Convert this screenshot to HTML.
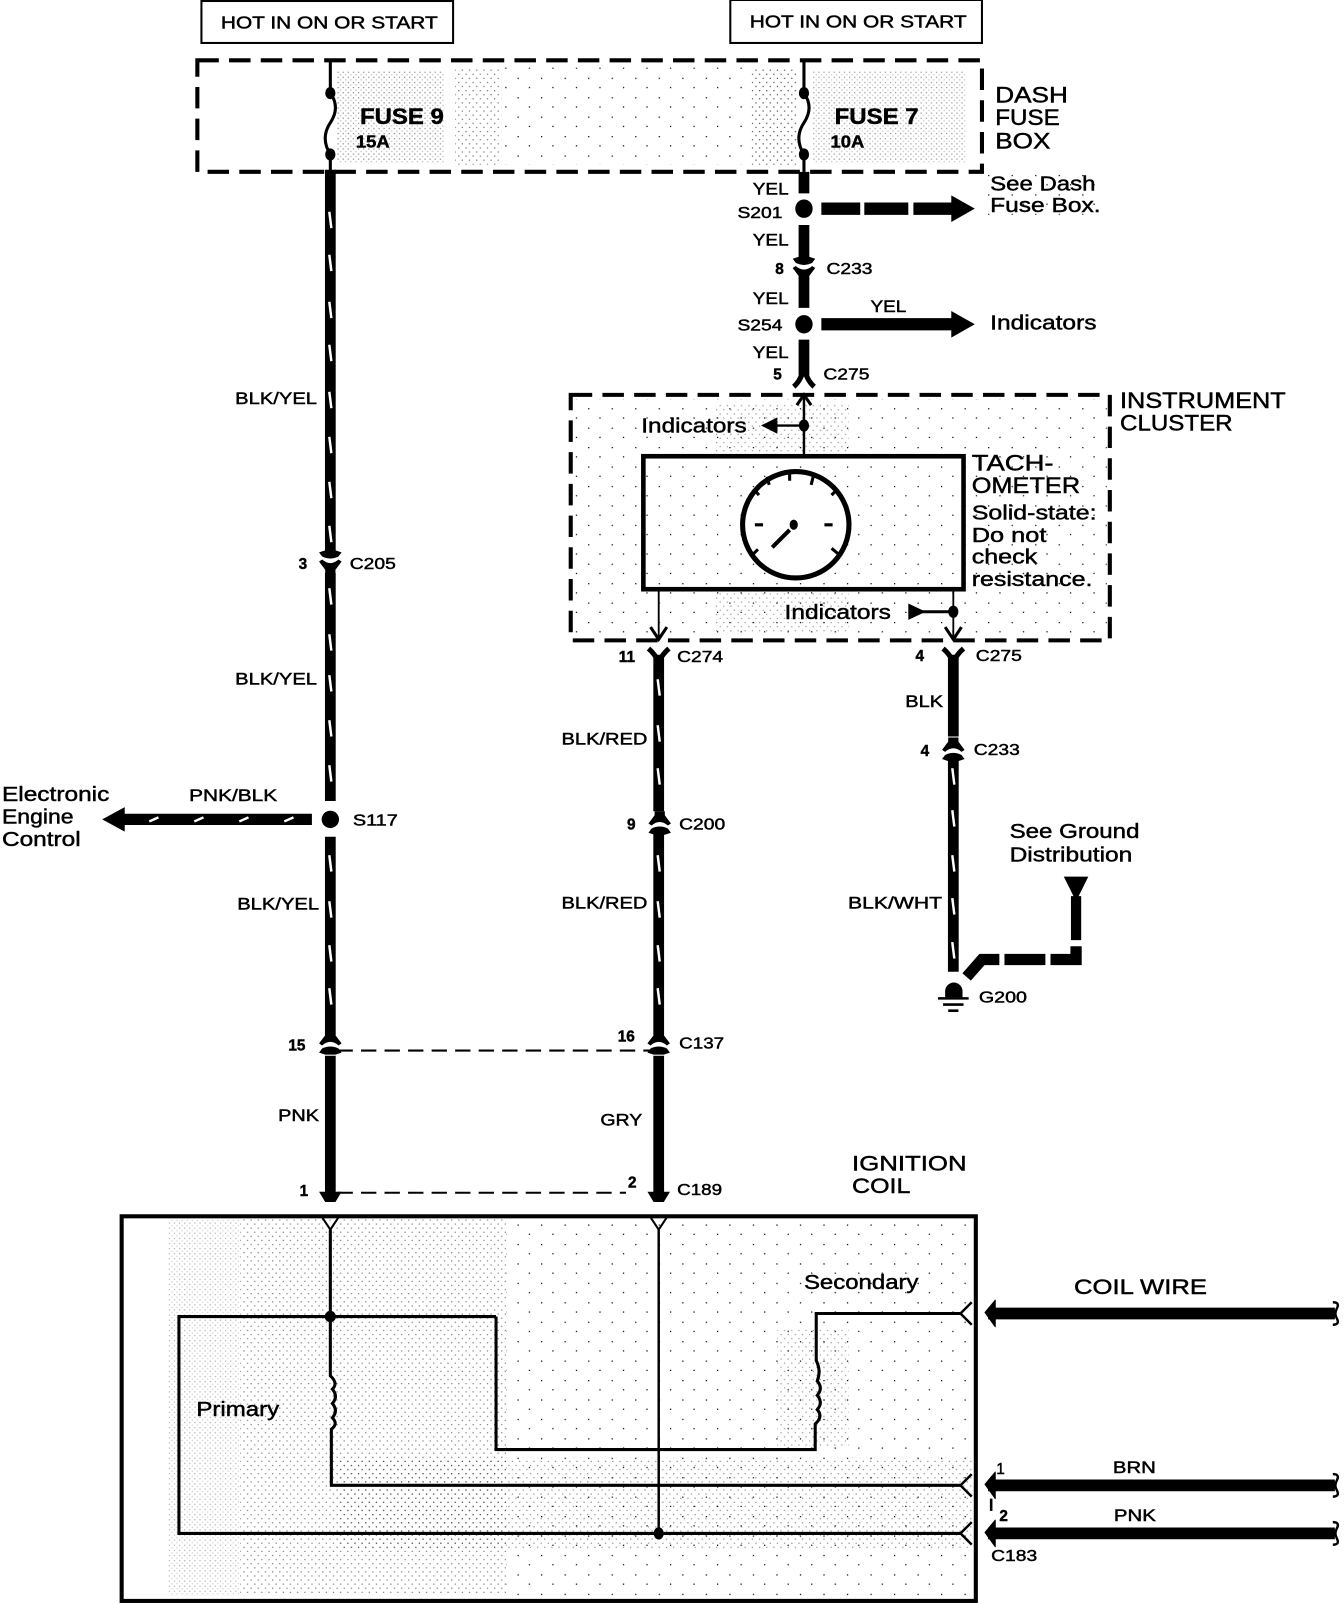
<!DOCTYPE html>
<html>
<head>
<meta charset="utf-8">
<title>Tachometer wiring</title>
<style>
html,body{margin:0;padding:0;background:#fff}
svg{display:block}
text{font-family:"Liberation Sans",sans-serif;fill:#000;stroke:#000;stroke-width:.45}
</style>
</head>
<body>
<svg width="1344" height="1604" viewBox="1 0 1312 1568" xmlns="http://www.w3.org/2000/svg">
<defs>
<pattern id="d1" width="5" height="5" patternUnits="userSpaceOnUse"><rect width="1.2" height="1.2" fill="#000"/><rect x="2.5" y="2.5" width="1.2" height="1.2" fill="#000" opacity=".6"/></pattern>
<pattern id="d2" width="7" height="8" patternUnits="userSpaceOnUse"><rect width="1.2" height="1.2" fill="#000"/><rect x="3.5" y="4" width="1.2" height="1.2" fill="#000"/></pattern>
<pattern id="d3" width="23" height="19" patternUnits="userSpaceOnUse"><rect width="1.2" height="1.2" fill="#000"/><rect x="11" y="9" width="1.2" height="1.2" fill="#000"/></pattern>
<g id="cd">
<path d="M-11,-9 L-5,-11 H5 L11,-9 L8,-5 Q0,-1 -8,-5 Z" fill="#000"/>
<path d="M-11,0 L-8,-2 Q0,5 8,-2 L11,0 L5,8 V12 H-5 V8 Z" fill="#000"/>
</g>
<use id="cu" href="#cd" transform="scale(1,-1)"/>
<path id="ybr" d="M-10,-8 Q-4,-3 0,5 Q4,-3 10,-8" fill="none" stroke="#000" stroke-width="5"/>
<path id="s" d="M-1,-8 L1,8" stroke="#fff" stroke-width="2.4" fill="none"/>
<path id="lt" d="M8,-11 L-3,0 L8,11" fill="none" stroke="#000" stroke-width="2.4"/>
<path id="brk" d="M-3,-11 Q4,-11 1,-5 Q-2,0 1,5 Q4,11 -3,11" fill="none" stroke="#000" stroke-width="2.4"/>
<path id="yv" d="M-8,0 L0,12 L8,0" fill="none" stroke="#000" stroke-width="2"/>
</defs>

<!-- shading -->
<rect x="330" y="70" width="105" height="90" fill="url(#d1)" opacity=".45"/>
<rect x="445" y="66" width="45" height="95" fill="url(#d2)" opacity=".55"/>
<rect x="490" y="66" width="240" height="95" fill="url(#d3)"/>
<rect x="735" y="66" width="45" height="95" fill="url(#d2)" opacity=".7"/>
<rect x="795" y="70" width="150" height="90" fill="url(#d1)" opacity=".4"/>
<rect x="965" y="170" width="110" height="40" fill="url(#d3)"/>
<rect x="562" y="390" width="520" height="232" fill="url(#d3)"/>
<rect x="700" y="395" width="130" height="50" fill="url(#d2)" opacity=".4"/>
<rect x="700" y="580" width="130" height="40" fill="url(#d2)" opacity=".4"/>
<rect x="165" y="1192" width="70" height="368" fill="url(#d1)" opacity=".3"/>
<rect x="235" y="1192" width="260" height="368" fill="url(#d2)" opacity=".5"/>
<rect x="495" y="1192" width="450" height="368" fill="url(#d3)"/>
<rect x="330" y="1425" width="620" height="90" fill="url(#d2)" opacity=".45"/>
<rect x="760" y="1300" width="70" height="115" fill="url(#d2)" opacity=".4"/>

<!-- top boxes -->
<rect x="197" y="1" width="246" height="41" fill="#fff" stroke="#000" stroke-width="2"/>
<rect x="714" y="0" width="246" height="42" fill="#fff" stroke="#000" stroke-width="2"/>
<text x="216" y="28" font-size="17" textLength="212" lengthAdjust="spacingAndGlyphs">HOT IN ON OR START</text>
<text x="733" y="27" font-size="17" textLength="212" lengthAdjust="spacingAndGlyphs">HOT IN ON OR START</text>

<!-- dash fuse box -->
<rect x="193" y="59" width="767" height="109" fill="none" stroke="#000" stroke-width="4" stroke-dasharray="21 10"/>
<path d="M323,58 V91 Q333,105 323,120 Q313,135 323,151 V168" fill="none" stroke="#000" stroke-width="3"/>
<path d="M786,58 V91 Q796,105 786,120 Q776,135 786,151 V168" fill="none" stroke="#000" stroke-width="3"/>
<ellipse cx="323" cy="91" rx="5" ry="6"/><ellipse cx="323" cy="151" rx="5" ry="6"/>
<ellipse cx="786" cy="91" rx="5" ry="6"/><ellipse cx="786" cy="151" rx="5" ry="6"/>
<text x="352" y="121" font-size="22" font-weight="bold" textLength="82" lengthAdjust="spacingAndGlyphs">FUSE 9</text>
<text x="348" y="144" font-size="17" font-weight="bold" textLength="33" lengthAdjust="spacingAndGlyphs">15A</text>
<text x="816" y="121" font-size="22" font-weight="bold" textLength="82" lengthAdjust="spacingAndGlyphs">FUSE 7</text>
<text x="812" y="144" font-size="17" font-weight="bold" textLength="33" lengthAdjust="spacingAndGlyphs">10A</text>
<text x="973" y="100" font-size="22" textLength="71" lengthAdjust="spacingAndGlyphs">DASH</text>
<text x="973" y="122" font-size="22" textLength="63" lengthAdjust="spacingAndGlyphs">FUSE</text>
<text x="973" y="145" font-size="22" textLength="54" lengthAdjust="spacingAndGlyphs">BOX</text>

<!-- left main wire -->
<path d="M323,166 V541 M323,560 V783 M323,818 V1012 M323,1032 V1167" stroke="#000" stroke-width="10.5" fill="none"/>
<path d="M312,1165 H334 L328,1175 H318 Z" fill="#000"/>
<use href="#s" x="323" y="215"/><use href="#s" x="323" y="257"/><use href="#s" x="323" y="303"/><use href="#s" x="323" y="345"/><use href="#s" x="323" y="391"/><use href="#s" x="323" y="435"/><use href="#s" x="323" y="479"/><use href="#s" x="323" y="522"/>
<use href="#s" x="323" y="583"/><use href="#s" x="323" y="628"/><use href="#s" x="323" y="668"/><use href="#s" x="323" y="712"/><use href="#s" x="323" y="756"/>
<use href="#s" x="323" y="844"/><use href="#s" x="323" y="889"/><use href="#s" x="323" y="932"/><use href="#s" x="323" y="974"/>
<use href="#cd" x="323" y="549"/>
<g transform="translate(323,1020)"><use href="#cu"/></g>
<circle cx="323" cy="801" r="8.5"/>
<text x="292" y="556" font-size="15" font-weight="bold">3</text>
<text x="342" y="556" font-size="15.5" textLength="45" lengthAdjust="spacingAndGlyphs">C205</text>
<text x="230" y="395" font-size="16.5" textLength="80" lengthAdjust="spacingAndGlyphs">BLK/YEL</text>
<text x="230" y="669" font-size="16.5" textLength="80" lengthAdjust="spacingAndGlyphs">BLK/YEL</text>
<text x="232" y="889" font-size="16.5" textLength="80" lengthAdjust="spacingAndGlyphs">BLK/YEL</text>
<text x="345" y="807" font-size="15.5" textLength="44" lengthAdjust="spacingAndGlyphs">S117</text>
<text x="185" y="783" font-size="16.5" textLength="86" lengthAdjust="spacingAndGlyphs">PNK/BLK</text>
<path d="M305,801 H120" stroke="#000" stroke-width="11"/>
<path d="M100,801 L122,789 V813 Z" fill="#000"/>
<path d="M146,803 L155,799 M190,803 L199,799 M234,803 L243,799 M278,803 L287,799" stroke="#fff" stroke-width="2.4"/>
<text x="2" y="783" font-size="20" textLength="105" lengthAdjust="spacingAndGlyphs">Electronic</text>
<text x="2" y="805" font-size="20" textLength="70" lengthAdjust="spacingAndGlyphs">Engine</text>
<text x="2" y="827" font-size="20" textLength="77" lengthAdjust="spacingAndGlyphs">Control</text>
<text x="282" y="1027" font-size="15" font-weight="bold">15</text>
<text x="272" y="1096" font-size="16.5" textLength="40" lengthAdjust="spacingAndGlyphs">PNK</text>
<text x="293" y="1169" font-size="15" font-weight="bold">1</text>
<path d="M330,1027 H640 M330,1166 H612" stroke="#000" stroke-width="2" stroke-dasharray="15 8" fill="none"/>

<!-- middle wire -->
<path d="M644,640 V793 M644,815 V1012 M644,1032 V1167" stroke="#000" stroke-width="10.5" fill="none"/>
<path d="M633,1165 H655 L649,1175 H639 Z" fill="#000"/>
<use href="#s" x="644" y="672"/><use href="#s" x="644" y="717"/><use href="#s" x="644" y="759"/>
<use href="#s" x="644" y="844"/><use href="#s" x="644" y="889"/><use href="#s" x="644" y="932"/><use href="#s" x="644" y="974"/>
<use href="#ybr" x="644" y="642"/>
<g transform="translate(645,805)"><use href="#cu"/></g>
<g transform="translate(644,1020)"><use href="#cu"/></g>
<text x="605" y="647" font-size="15" font-weight="bold">11</text>
<text x="662" y="647" font-size="15.5" textLength="45" lengthAdjust="spacingAndGlyphs">C274</text>
<text x="549" y="728" font-size="16.5" textLength="84" lengthAdjust="spacingAndGlyphs">BLK/RED</text>
<text x="549" y="888" font-size="16.5" textLength="84" lengthAdjust="spacingAndGlyphs">BLK/RED</text>
<text x="613" y="811" font-size="15" font-weight="bold">9</text>
<text x="664" y="811" font-size="15.5" textLength="45" lengthAdjust="spacingAndGlyphs">C200</text>
<text x="604" y="1018" font-size="15" font-weight="bold">16</text>
<text x="664" y="1025" font-size="15.5" textLength="44" lengthAdjust="spacingAndGlyphs">C137</text>
<text x="587" y="1100" font-size="16.5" textLength="41" lengthAdjust="spacingAndGlyphs">GRY</text>
<text x="614" y="1161" font-size="15" font-weight="bold">2</text>
<text x="662" y="1168" font-size="15.5" textLength="44" lengthAdjust="spacingAndGlyphs">C189</text>

<!-- right top wire -->
<path d="M786,168 V189 M786,220 V256 M786,270 V301 M786,332 V367" stroke="#000" stroke-width="10.5" fill="none"/>
<ellipse cx="786" cy="204" rx="8.5" ry="9"/><ellipse cx="786" cy="317" rx="8.5" ry="9"/>
<use href="#cd" x="786" y="262"/>
<path d="M776,378 Q783,372 786,360 Q789,372 796,378" fill="none" stroke="#000" stroke-width="5"/>
<path d="M803,204 H841 M845,204 H888 M893,204 H932" stroke="#000" stroke-width="12" fill="none"/>
<path d="M953,204 L930,191 V217 Z" fill="#000"/>
<path d="M803,317 H932" stroke="#000" stroke-width="12"/>
<path d="M953,317 L930,304 V330 Z" fill="#000"/>
<text x="736" y="190" font-size="16.5" textLength="35" lengthAdjust="spacingAndGlyphs">YEL</text>
<text x="721" y="213" font-size="15.5" textLength="44" lengthAdjust="spacingAndGlyphs">S201</text>
<text x="736" y="240" font-size="16.5" textLength="35" lengthAdjust="spacingAndGlyphs">YEL</text>
<text x="758" y="268" font-size="15" font-weight="bold">8</text>
<text x="808" y="268" font-size="15.5" textLength="45" lengthAdjust="spacingAndGlyphs">C233</text>
<text x="736" y="297" font-size="16.5" textLength="35" lengthAdjust="spacingAndGlyphs">YEL</text>
<text x="721" y="323" font-size="15.5" textLength="44" lengthAdjust="spacingAndGlyphs">S254</text>
<text x="851" y="305" font-size="16.5" textLength="35" lengthAdjust="spacingAndGlyphs">YEL</text>
<text x="736" y="350" font-size="16.5" textLength="35" lengthAdjust="spacingAndGlyphs">YEL</text>
<text x="756" y="371" font-size="15" font-weight="bold">5</text>
<text x="805" y="371" font-size="15.5" textLength="45" lengthAdjust="spacingAndGlyphs">C275</text>
<text x="968" y="186" font-size="20" textLength="103" lengthAdjust="spacingAndGlyphs">See Dash</text>
<text x="968" y="207" font-size="20" textLength="108" lengthAdjust="spacingAndGlyphs">Fuse Box.</text>
<text x="968" y="322" font-size="20" textLength="104" lengthAdjust="spacingAndGlyphs">Indicators</text>

<!-- instrument cluster -->
<rect x="558" y="386" width="527" height="240" fill="none" stroke="#000" stroke-width="4" stroke-dasharray="21 10"/>
<text x="1095" y="399" font-size="22" textLength="162" lengthAdjust="spacingAndGlyphs">INSTRUMENT</text>
<text x="1095" y="421" font-size="22" textLength="110" lengthAdjust="spacingAndGlyphs">CLUSTER</text>
<path d="M786,446 V388" stroke="#000" stroke-width="2.4"/>
<path d="M779,396 L786,386 L793,396" fill="none" stroke="#000" stroke-width="3"/>
<ellipse cx="786" cy="416" rx="5" ry="6"/>
<path d="M786,416 H755" stroke="#000" stroke-width="2.4"/>
<path d="M744,416 L760,408 V424 Z" fill="#000"/>
<text x="627" y="423" font-size="20" textLength="103" lengthAdjust="spacingAndGlyphs">Indicators</text>
<rect x="629" y="446" width="313" height="130" fill="none" stroke="#000" stroke-width="4.5"/>
<circle cx="778" cy="513" r="52" fill="#fff" stroke="#000" stroke-width="5"/>
<path d="M755,535 L772,518" stroke="#000" stroke-width="4"/><ellipse cx="776" cy="513" rx="4" ry="5"/>
<path d="M736,542 L741,537 M737,478 L742,484 M750,466 L752,474 M772,462 L772,470 M795,466 L793,474 M819,478 L813,484 M806,513 L814,513 M738,513 L746,513 M813,536 L819,541" stroke="#000" stroke-width="3" fill="none"/>
<text x="950" y="460" font-size="22" textLength="80" lengthAdjust="spacingAndGlyphs">TACH-</text>
<text x="950" y="482" font-size="22" textLength="106" lengthAdjust="spacingAndGlyphs">OMETER</text>
<text x="950" y="508" font-size="20" textLength="122" lengthAdjust="spacingAndGlyphs">Solid-state:</text>
<text x="950" y="530" font-size="20" textLength="73" lengthAdjust="spacingAndGlyphs">Do not</text>
<text x="950" y="551" font-size="20" textLength="64" lengthAdjust="spacingAndGlyphs">check</text>
<text x="950" y="573" font-size="20" textLength="118" lengthAdjust="spacingAndGlyphs">resistance.</text>
<path d="M644,576 V624" stroke="#000" stroke-width="1.8"/>
<path d="M636,613 L644,625 L652,613" fill="none" stroke="#000" stroke-width="3"/>
<path d="M932,576 V624" stroke="#000" stroke-width="1.8"/>
<path d="M924,613 L932,625 L940,613" fill="none" stroke="#000" stroke-width="3"/>
<ellipse cx="932" cy="598" rx="5" ry="6"/>
<path d="M932,598 H900" stroke="#000" stroke-width="3"/>
<path d="M888,590 L905,598 L888,606 Z" fill="#000"/>
<text x="767" y="605" font-size="20" textLength="104" lengthAdjust="spacingAndGlyphs">Indicators</text>

<!-- right lower wire -->
<path d="M932,640 V720 M932,742 V950" stroke="#000" stroke-width="10.5" fill="none"/>
<use href="#ybr" x="932" y="642"/>
<g transform="translate(932,733)"><use href="#cu"/></g>
<use href="#s" x="932" y="759"/><use href="#s" x="932" y="800"/><use href="#s" x="932" y="844"/><use href="#s" x="932" y="886"/><use href="#s" x="932" y="929"/>
<text x="895" y="646" font-size="15" font-weight="bold">4</text>
<text x="954" y="646" font-size="15.5" textLength="45" lengthAdjust="spacingAndGlyphs">C275</text>
<text x="885" y="691" font-size="16.5" textLength="37" lengthAdjust="spacingAndGlyphs">BLK</text>
<text x="900" y="739" font-size="15" font-weight="bold">4</text>
<text x="952" y="738" font-size="15.5" textLength="45" lengthAdjust="spacingAndGlyphs">C233</text>
<text x="829" y="888" font-size="16.5" textLength="92" lengthAdjust="spacingAndGlyphs">BLK/WHT</text>
<text x="987" y="819" font-size="20" textLength="127" lengthAdjust="spacingAndGlyphs">See Ground</text>
<text x="987" y="842" font-size="20" textLength="120" lengthAdjust="spacingAndGlyphs">Distribution</text>
<path d="M1040,857 H1064 L1052,881 Z" fill="#000"/>
<path d="M1052,876 V919" stroke="#000" stroke-width="10" fill="none"/>
<path d="M1052,925 V938 H1027" stroke="#000" stroke-width="11" fill="none"/>
<path d="M1022,938 H982" stroke="#000" stroke-width="11" fill="none"/>
<path d="M977,938 H960 L945,955" stroke="#000" stroke-width="11" fill="none"/>
<path d="M924,969 A8,8 0 0 1 941,969 V975 H924 Z" fill="#000"/>
<path d="M917,976 H947 M922,982 H942 M927,988 H937" stroke="#000" stroke-width="2.5"/>
<text x="957" y="980" font-size="15.5" textLength="47" lengthAdjust="spacingAndGlyphs">G200</text>

<!-- ignition coil -->
<text x="833" y="1144" font-size="21" textLength="112" lengthAdjust="spacingAndGlyphs">IGNITION</text>
<text x="833" y="1166" font-size="21" textLength="57" lengthAdjust="spacingAndGlyphs">COIL</text>
<rect x="119" y="1189" width="835" height="376" fill="none" stroke="#000" stroke-width="4"/>
<use href="#yv" x="323" y="1190"/><use href="#yv" x="644" y="1190"/>
<path d="M323,1202 V1345 Q331,1352 325,1358 Q331,1365 325,1372 Q331,1379 325,1386 Q331,1392 324,1397 V1452 H940" fill="none" stroke="#000" stroke-width="3"/>
<path d="M644,1202 V1499" fill="none" stroke="#000" stroke-width="2.4"/>
<path d="M485,1287 H175 V1499 H940" fill="none" stroke="#000" stroke-width="3"/>
<path d="M485,1287 V1417 H797 V1392 Q805,1385 799,1378 Q805,1371 799,1364 Q805,1357 799,1350 Q803,1340 798,1330 V1284 H940" fill="none" stroke="#000" stroke-width="3"/>
<circle cx="323" cy="1287" r="5.5"/><ellipse cx="644" cy="1499" rx="5" ry="6"/>
<text x="192" y="1384" font-size="20" textLength="81" lengthAdjust="spacingAndGlyphs">Primary</text>
<text x="786" y="1260" font-size="20" textLength="112" lengthAdjust="spacingAndGlyphs">Secondary</text>
<use href="#lt" x="942" y="1284"/><use href="#lt" x="942" y="1452"/><use href="#lt" x="942" y="1499"/>

<!-- coil right wires -->
<path d="M966,1284 H1305 M966,1452 H1305 M966,1499 H1305" stroke="#000" stroke-width="11.5" fill="none"/>
<path d="M963,1283 L973,1271 V1297 Z M963,1451 L973,1439 V1465 Z M963,1498 L973,1486 V1512 Z" fill="#000" stroke="#000" stroke-linejoin="round"/>
<use href="#brk" x="1306" y="1284"/><use href="#brk" x="1306" y="1452"/><use href="#brk" x="1306" y="1499"/>
<path d="M969,1465 V1477" stroke="#000" stroke-width="2.5"/>
<text x="1050" y="1265" font-size="21" textLength="130" lengthAdjust="spacingAndGlyphs">COIL WIRE</text>
<text x="974" y="1441" font-size="15">1</text>
<text x="977" y="1487" font-size="15" font-weight="bold">2</text>
<text x="1088" y="1440" font-size="16" textLength="42" lengthAdjust="spacingAndGlyphs">BRN</text>
<text x="1089" y="1487" font-size="16" textLength="41" lengthAdjust="spacingAndGlyphs">PNK</text>
<text x="969" y="1526" font-size="15.5" textLength="45" lengthAdjust="spacingAndGlyphs">C183</text>
</svg>
</body>
</html>
